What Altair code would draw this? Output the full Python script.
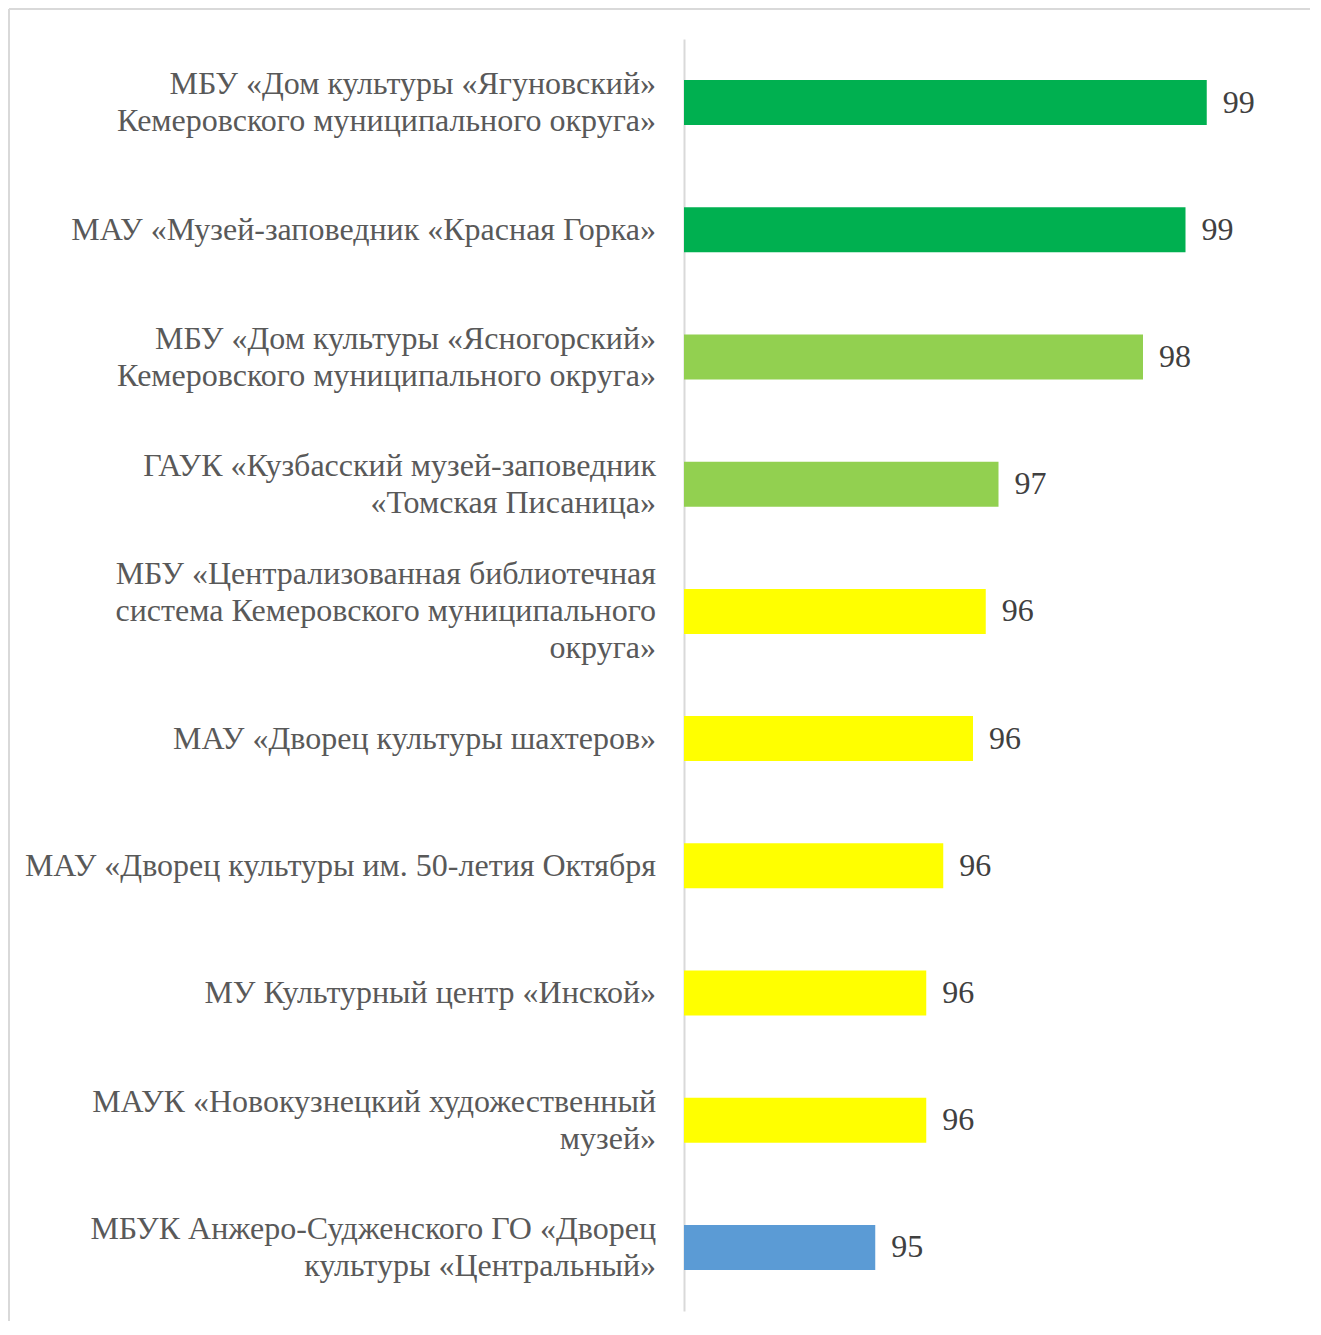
import altair as alt
import pandas as pd

labels = [
    "МБУ  «Дом культуры «Ягуновский»|Кемеровского муниципального  округа»",
    "МАУ «Музей-заповедник «Красная Горка»",
    "МБУ  «Дом культуры «Ясногорский»|Кемеровского муниципального  округа»",
    "ГАУК «Кузбасский музей-заповедник|«Томская Писаница»",
    "МБУ «Централизованная библиотечная|система Кемеровского муниципального|округа»",
    "МАУ «Дворец культуры шахтеров»",
    "МАУ «Дворец культуры им. 50-летия  Октября",
    "МУ Культурный центр «Инской»",
    "МАУК «Новокузнецкий художественный|музей»",
    "МБУК Анжеро-Судженского ГО  «Дворец|культуры «Центральный»",
]
values = [99.0, 98.75, 98.25, 96.55, 96.4, 96.25, 95.9, 95.7, 95.7, 95.1]
colors = ["#00B050", "#00B050", "#92D050", "#92D050", "#FFFF00",
          "#FFFF00", "#FFFF00", "#FFFF00", "#FFFF00", "#5B9BD5"]

df = pd.DataFrame({"label": labels, "value": values, "color": colors})

X_MIN, X_MAX = 92.85, 99.85
LINE_H = 37

y = alt.Y(
    "label:N",
    sort=None,
    title=None,
    scale=alt.Scale(paddingInner=0.646, paddingOuter=0.323),
    axis=alt.Axis(
        labels=False,
        ticks=False,
        tickSize=0,
        domainColor="#d9d9d9",
        domainWidth=2,
    ),
)
x = alt.X("value:Q", scale=alt.Scale(domain=[X_MIN, X_MAX], zero=False, nice=False), axis=None)

base = alt.Chart(df)
bars = base.mark_bar().encode(
    y=y, x=x, x2=alt.datum(X_MIN), color=alt.Color("color:N", scale=None)
)
texts = base.mark_text(
    align="left", baseline="middle", dx=16,
    font="Liberation Serif", fontSize=32, color="#404040",
).encode(y=y, x=x, text=alt.Text("value:Q", format=".0f"))

# category labels: one layer per line count so each block is centred on its bar
label_layers = []
for n in (1, 2, 3):
    label_layers.append(
        base.transform_calculate(nlines="length(split(datum.label, '|'))")
        .transform_filter(f"datum.nlines == {n}")
        .mark_text(
            align="right", baseline="middle", font="Liberation Serif", fontSize=32,
            color="#595959", lineHeight=LINE_H, lineBreak="|",
            dy=-(n - 1) * LINE_H / 2,
        )
        .encode(y=y, x=alt.value(-28), text="label:N")
    )

frame_data = alt.Data(values=[{"k": 1}])
top_line = alt.Chart(frame_data).mark_rule(color="#d9d9d9", strokeWidth=2).encode(
    x=alt.value(-675), x2=alt.value(626), y=alt.value(-30)
)
left_line = alt.Chart(frame_data).mark_rule(color="#d9d9d9", strokeWidth=2).encode(
    x=alt.value(-675), y=alt.value(-30), y2=alt.value(1282)
)

chart = alt.layer(top_line, left_line, bars, texts, *label_layers).properties(
    width=595, height=1272, padding=0
).configure_view(stroke=None)

chart.save("out.html", embed_options={"renderer": "svg", "actions": False})
